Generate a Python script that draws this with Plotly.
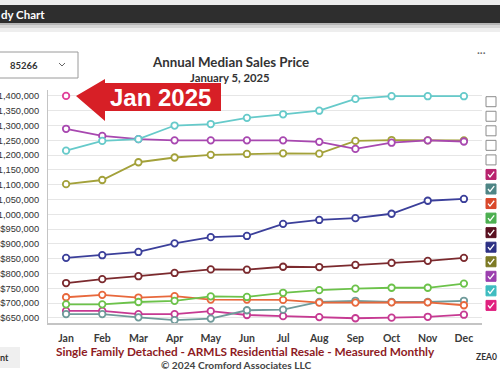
import plotly.graph_objects as go

# ---------------- data ----------------
months = ["Jan", "Feb", "Mar", "Apr", "May", "Jun", "Jul", "Aug", "Sep", "Oct", "Nov", "Dec"]

legend_years = ["2011", "2012", "2013", "2014", "2015", "2016", "2017", "2018",
                "2019", "2020", "2021", "2022", "2023", "2024", "2025"]
legend_checked = [False, False, False, False, False, True, True, True,
                  True, True, True, True, True, True, True]

y2016 = [674000, 674000, 663000, 663000, 673000, 660000, 656000, 653000, 649000, 651000, 654000, 661000]
y2017 = [663000, 663000, 652000, 643000, 648000, 676000, 678000, 704000, 708000, 704000, 704000, 708000]
y2018 = [720000, 728000, 719000, 724000, 712000, 712000, 711000, 702000, 702000, 703000, 703000, 693000]
y2019 = [696000, 696000, 704000, 708000, 723000, 721000, 735000, 744000, 749000, 752000, 752000, 766000]
y2020 = [768000, 781000, 791000, 802000, 814000, 813000, 823000, 822000, 829000, 836000, 843000, 853000]
y2021 = [853000, 862000, 873000, 902000, 923000, 927000, 968000, 981000, 987000, 1002000, 1046000, 1052000]
y2022 = [1102000, 1116000, 1176000, 1192000, 1201000, 1204000, 1206000, 1205000, 1248000, 1251000, 1250000, 1250000]
y2023 = [1289000, 1265000, 1254000, 1250000, 1250000, 1250000, 1250000, 1245000, 1221000, 1242000, 1250000, 1246000]
y2024 = [1215000, 1248000, 1254000, 1300000, 1305000, 1326000, 1338000, 1350000, 1390000, 1399000, 1399000, 1399000]
y2025 = [1400000]

series_names = ["2016", "2017", "2018", "2019", "2020", "2021", "2022", "2023", "2024", "2025"]
series_values = [y2016, y2017, y2018, y2019, y2020, y2021, y2022, y2023, y2024, y2025]

y_tick_values = list(range(650000, 1400001, 50000))

# ---------------- styles ----------------
line_colors = ["#c63a92", "#6f9a9a", "#e8683c", "#6cc24a", "#7b2a2e",
               "#3b3f9a", "#a3a13a", "#a848b0", "#66caca", "#e0409a"]
box_colors = ["#b8236e", "#4e8585", "#d9482b", "#4caf50", "#5a1020",
              "#2d3184", "#7d7a25", "#9b3fae", "#3fbcc0", "#e0207f"]

W, H = 500, 383
L, R, T, B = 48, 18, 90, 60
PW, PH = W - L - R, H - T - B


def px(x):
    return (x - L) / PW


def py(y):
    return (H - B - y) / PH


def path_of(points, close=True):
    s = "M " + " L ".join(f"{px(a):.5f},{py(b):.5f}" for a, b in points)
    return s + (" Z" if close else "")


fig = go.Figure()
for name, vals, col in zip(series_names, series_values, line_colors):
    fig.add_trace(go.Scatter(
        x=months[:len(vals)], y=vals, name=name, mode="lines+markers",
        line=dict(color=col, width=1.8),
        marker=dict(symbol="circle", size=6.5, color="white", line=dict(color=col, width=1.8)),
        hoverinfo="skip", showlegend=False, cliponaxis=False,
    ))

shapes = []
# header strip / dark bar / shadow
shapes.append(dict(type="rect", xref="paper", yref="paper", x0=px(0), x1=px(W), y0=py(0), y1=py(5),
                   fillcolor="#ececec", line=dict(width=0), layer="below"))
shapes.append(dict(type="rect", xref="paper", yref="paper", x0=px(0), x1=px(W), y0=py(5), y1=py(23),
                   fillcolor="#2e2e2e", line=dict(width=0)))
for (a, b, c) in [(23, 25, "#b5b5b5"), (25, 28, "#d6d6d6"), (28, 32, "#eeeeee")]:
    shapes.append(dict(type="rect", xref="paper", yref="paper", x0=px(0), x1=px(W), y0=py(a), y1=py(b),
                       fillcolor=c, line=dict(width=0)))
# dropdown
shapes.append(dict(type="rect", xref="paper", yref="paper", x0=px(-1), x1=px(78), y0=py(52), y1=py(78),
                   fillcolor="white", line=dict(color="#9a9a9a", width=1)))
shapes.append(dict(type="path", xref="paper", yref="paper",
                   path=path_of([(59, 63), (62, 66), (65, 63)], close=False),
                   line=dict(color="#666", width=1)))
# bottom-left button
shapes.append(dict(type="rect", xref="paper", yref="paper", x0=px(-3), x1=px(20), y0=py(347), y1=py(368),
                   fillcolor="#efefef", line=dict(width=0)))
# red arrow callout
shapes.append(dict(type="path", xref="paper", yref="paper",
                   path=path_of([(76, 96), (105, 79), (105, 83), (221, 83), (221, 111),
                                 (105, 111), (105, 121)]),
                   fillcolor="#d71f26", line=dict(width=0)))
# checkboxes
for i, (yr, chk) in enumerate(zip(legend_years, legend_checked)):
    cy = 101.7 + i * 14.55
    cx = 491
    if chk:
        col = box_colors[series_names.index(yr)]
        shapes.append(dict(type="rect", xref="paper", yref="paper", x0=px(cx - 5), x1=px(cx + 5),
                           y0=py(cy + 5), y1=py(cy - 5), fillcolor=col, line=dict(color=col, width=1)))
        shapes.append(dict(type="path", xref="paper", yref="paper",
                           path=path_of([(cx - 3, cy), (cx - 1, cy + 2.5), (cx + 3.2, cy - 2.8)], close=False),
                           line=dict(color="white", width=1.3)))
    else:
        shapes.append(dict(type="rect", xref="paper", yref="paper", x0=px(cx - 5), x1=px(cx + 5),
                           y0=py(cy + 5), y1=py(cy - 5), fillcolor="white",
                           line=dict(color="#8c8c8c", width=1)))

ann = []


def text(x, y, s, size, color="#333", bold=True, anchor="center", family="Lato"):
    ann.append(dict(xref="paper", yref="paper", x=px(x), y=py(y), text=(f"<b>{s}</b>" if bold else s),
                    showarrow=False, xanchor=anchor, yanchor="middle",
                    font=dict(size=size, color=color, family=family)))


text(-1, 14, "dy Chart", 11.5, "white", anchor="left")
text(8, 65, "85266", 9.5, "#333", anchor="left")
text(230, 62, "Annual Median Sales Price", 13.3, "#333")
text(230, 77, "January 5, 2025", 11.3, "#333")
text(481, 52, "···", 11, "#666", bold=False)
text(160, 97, "Jan 2025", 24, "white", family="Liberation Sans")
text(245, 351.5, "Single Family Detached - ARMLS Residential Resale - Measured Monthly", 11.8, "#8e1b24")
text(236, 365, "© 2024 Cromford Associates LLC", 10.2, "#444")
text(499, 357, "ZEA0", 8.5, "#333", anchor="right")
text(-2, 357, "nt", 9, "#333", anchor="left")

fig.update_layout(
    width=W, height=H,
    margin=dict(l=L, r=R, t=T, b=B, pad=0, autoexpand=False),
    paper_bgcolor="white", plot_bgcolor="white",
    shapes=shapes, annotations=ann,
    hovermode=False,
    xaxis=dict(type="category", categoryorder="array", categoryarray=months, range=[-0.5, 11.5],
               showgrid=False, showline=True, linecolor="#c4c4c4", linewidth=2, ticks="",
               tickfont=dict(family="Lato", size=10.5, color="#3a3a3a", weight="bold"),
               ticklabelstandoff=4, zeroline=False, fixedrange=True, automargin=False),
    yaxis=dict(range=[633000, 1420000], tickvals=y_tick_values, tickformat="$,.0f",
               showgrid=True, gridcolor="#e6e6e6", gridwidth=1, showline=True, linecolor="#c4c4c4",
               linewidth=1, ticks="", zeroline=False,
               tickfont=dict(family="Liberation Sans", size=9.3, color="#333"),
               ticklabelstandoff=6, fixedrange=True, automargin=False),
)

fig.write_html("out.html", config={"displayModeBar": False},
               post_script="document.body.style.margin='0';document.body.style.overflow='hidden';")
